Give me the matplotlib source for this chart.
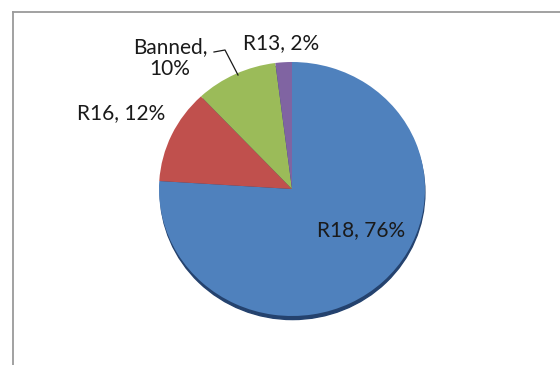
import matplotlib
matplotlib.use("Agg")
import matplotlib.pyplot as plt
from matplotlib.patches import Ellipse
from matplotlib.lines import Line2D

labels = ["R18", "R16", "Banned", "R13"]
values = [76, 12, 10, 2]
colors = ["#4F81BD", "#C0504D", "#9BBB59", "#8064A2"]

W, H = 560, 365
fig = plt.figure(figsize=(W / 100, H / 100), dpi=100)
fig.patch.set_facecolor("white")

# chart frame
fig.add_artist(Line2D([13 / W, 13 / W], [0, 1 - 12 / H], transform=fig.transFigure,
                      color="#9a9a9a", lw=1.3))
fig.add_artist(Line2D([13 / W, 1], [1 - 12 / H, 1 - 12 / H], transform=fig.transFigure,
                      color="#9a9a9a", lw=1.3))

cx, cy, rx, ry = 292, 189, 133, 127
ax = fig.add_axes([(cx - rx) / W, (H - cy - ry) / H, 2 * rx / W, 2 * ry / H])

# subtle shadow rim at the bottom
ax.add_patch(Ellipse((0.004, -0.028), 1.99, 2.0, color="#24426e", zorder=0, clip_on=False))

wedges, _ = ax.pie(values, colors=colors, startangle=90, counterclock=False,
                   wedgeprops=dict(linewidth=0, clip_on=False))
ax.set_aspect("auto")
ax.set_xlim(-1, 1)
ax.set_ylim(-1, 1)

def px(x, y):
    return ((x - cx) / rx, (cy - y) / ry)

font = dict(family=["Lato", "DejaVu Sans"], fontsize=15, color="#1a1a1a")
pos = {
    "R18": (361, 230),
    "R16": (121, 113),
    "Banned": (170, 58),
    "R13": (281, 43),
}
for lab, v in zip(labels, values):
    sep = "\n" if lab == "Banned" else " "
    x, y = px(*pos[lab])
    ax.text(x, y, f"{lab},{sep}{v}%", ha="center", va="center",
            linespacing=1.15, clip_on=False, **font)

# leader line for Banned
lx, ly = zip(px(214, 52), px(225, 50), px(238, 75))
ax.plot(lx, ly, color="#1a1a1a", lw=0.9, clip_on=False)

fig.savefig("out.png", dpi=100)
